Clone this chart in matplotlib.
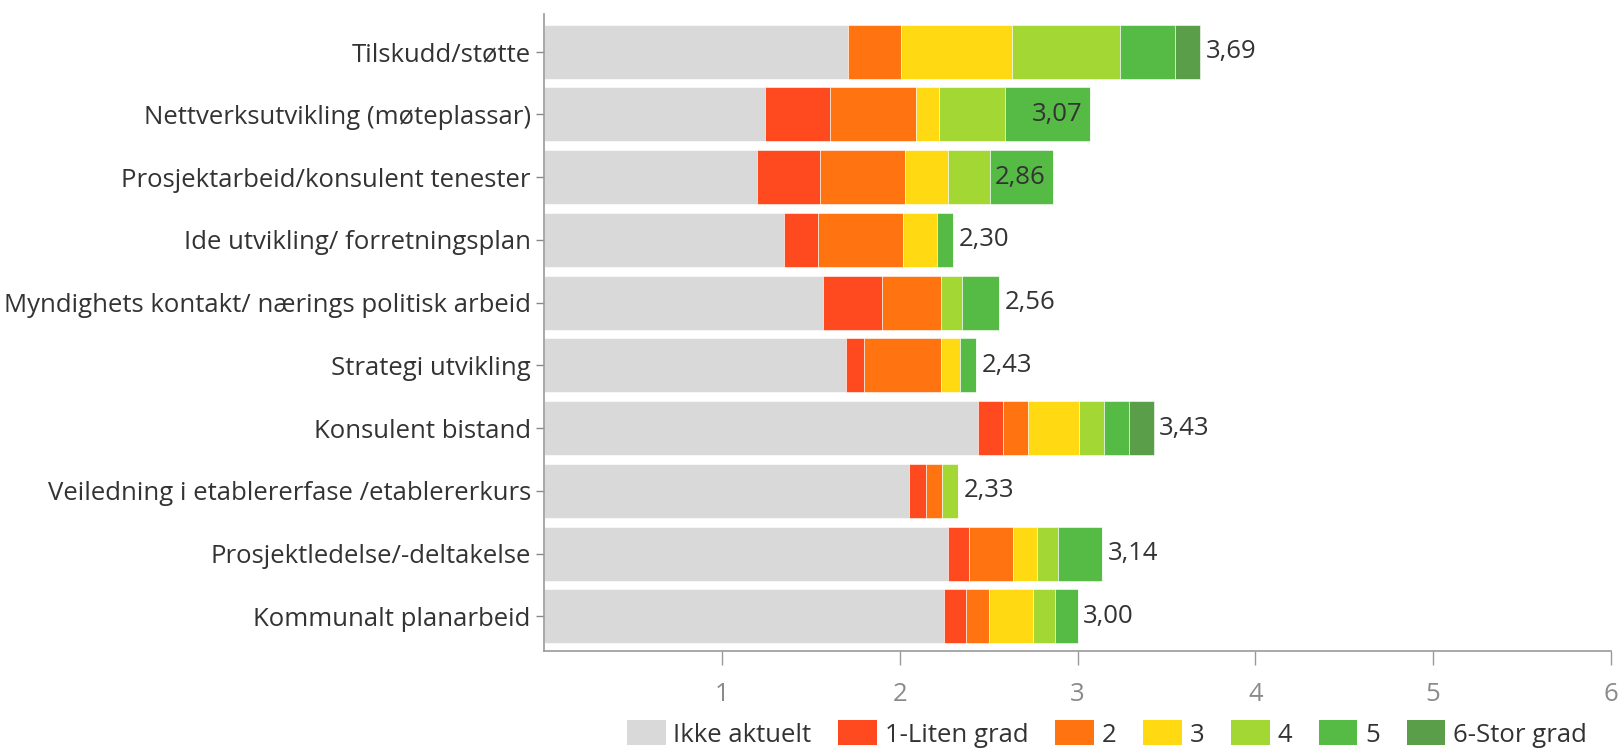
import numpy as np
import matplotlib.pyplot as plt
from matplotlib.patches import Patch

plt.rcParams['font.family'] = ['Open Sans', 'DejaVu Sans']

categories = [
    "Tilskudd/støtte",
    "Nettverksutvikling (møteplassar)",
    "Prosjektarbeid/konsulent tenester",
    "Ide utvikling/ forretningsplan",
    "Myndighets kontakt/ nærings politisk arbeid",
    "Strategi utvikling",
    "Konsulent bistand",
    "Veiledning i etablererfase /etablererkurs",
    "Prosjektledelse/-deltakelse",
    "Kommunalt planarbeid",
]

series_names = ["Ikke aktuelt", "1-Liten grad", "2", "3", "4", "5", "6-Stor grad"]

ikke_aktuelt = [1.71, 1.24, 1.20, 1.35, 1.57, 1.70, 2.44, 2.05, 2.27, 2.25]
grad_1 = [0.00, 0.37, 0.35, 0.19, 0.33, 0.10, 0.14, 0.10, 0.12, 0.125]
grad_2 = [0.30, 0.48, 0.48, 0.48, 0.33, 0.43, 0.14, 0.09, 0.25, 0.125]
grad_3 = [0.62, 0.13, 0.24, 0.19, 0.00, 0.11, 0.29, 0.00, 0.13, 0.25]
grad_4 = [0.61, 0.37, 0.24, 0.00, 0.12, 0.00, 0.14, 0.09, 0.12, 0.125]
grad_5 = [0.31, 0.48, 0.35, 0.09, 0.21, 0.09, 0.14, 0.00, 0.25, 0.125]
grad_6 = [0.14, 0.00, 0.00, 0.00, 0.00, 0.00, 0.14, 0.00, 0.00, 0.00]

totals = [3.69, 3.07, 2.86, 2.30, 2.56, 2.43, 3.43, 2.33, 3.14, 3.00]
# these two labels sit inside the end of the bar
inside = [False, True, True, False, False, False, False, False, False, False]

colors = ["#d9d9d9", "#ff4a1f", "#ff7311", "#ffd912", "#a2d734", "#55bb44", "#5a9e4a"]
series = [ikke_aktuelt, grad_1, grad_2, grad_3, grad_4, grad_5, grad_6]

fs = 18.5

fig = plt.figure(figsize=(16.2, 7.49), dpi=100)
ax = fig.add_axes([544 / 1620, 1 - 651 / 749, (1611 - 544) / 1620, (651 - 14) / 749])

y = np.arange(len(categories))
left = np.zeros(len(categories))
for vals, col, name in zip(series, colors, series_names):
    vals = np.array(vals)
    ax.barh(y, vals, left=left, height=0.86, color=col, edgecolor="white",
            linewidth=0.4, label=name)
    left += vals

for i, t in enumerate(totals):
    txt = f"{t:.2f}".replace(".", ",")
    if inside[i]:
        ax.text(t - 0.04, y[i], txt, ha="right", va="center", fontsize=fs, color="#333333")
    else:
        ax.text(t + 0.03, y[i], txt, ha="left", va="center", fontsize=fs, color="#333333")

ax.set_xlim(0, 6)
ax.set_ylim(len(categories) - 0.45, -0.6)
ax.set_xticks([1, 2, 3, 4, 5, 6])
ax.set_yticks(y)
ax.set_yticklabels(categories)
ax.tick_params(axis="y", labelsize=fs, colors="#888888", labelcolor="#333333", length=6, width=1)
ax.tick_params(axis="x", labelsize=fs, colors="#999999", labelcolor="#8a8a8a", length=10, width=1, pad=12)

for s in ["top", "right"]:
    ax.spines[s].set_visible(False)
for s in ["left", "bottom"]:
    ax.spines[s].set_color("#9a9a9a")
    ax.spines[s].set_linewidth(1.2)

handles = [Patch(facecolor=c, edgecolor="none") for c in colors]
fig.legend(handles, series_names, loc="center", bbox_to_anchor=(1107 / 1620, 1 - 734 / 749),
           ncol=7, frameon=False, fontsize=fs, handlelength=1.5, handleheight=1.1,
           handletextpad=0.3, columnspacing=1.05, labelcolor="#333333")

fig.savefig("out.png", dpi=100)
